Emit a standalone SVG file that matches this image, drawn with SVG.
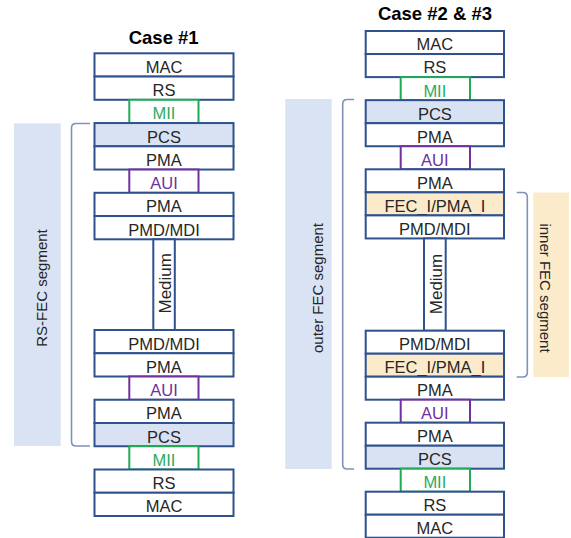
<svg xmlns="http://www.w3.org/2000/svg" width="571" height="538" viewBox="0 0 571 538">
<style>
.bx{fill:#ffffff;stroke:#2F528F;stroke-width:2}
.pcs{fill:#D9E2F3;stroke:#2F528F;stroke-width:2}
.fec{fill:#FCEBCB;stroke:#2F528F;stroke-width:2}
.mii{fill:#ffffff;stroke:#1FAA55;stroke-width:2}
.aui{fill:#ffffff;stroke:#7030A0;stroke-width:2}
.t{font-family:"Liberation Sans",Arial,sans-serif;font-size:16.5px;fill:#262626;text-anchor:middle}
.tm{fill:#2DAA5E}
.ta{fill:#7030A0}
.med{font-family:"Liberation Sans",Arial,sans-serif;font-size:17px;fill:#262626;text-anchor:middle}
.ttl{font-family:"Liberation Sans",Arial,sans-serif;font-size:18.5px;font-weight:bold;fill:#000;text-anchor:middle}
.seg{font-family:"Liberation Sans",Arial,sans-serif;font-size:15px;fill:#262626;text-anchor:middle}
.br{fill:none;stroke:#7F93B8;stroke-width:1.6}
</style>
<rect width="571" height="538" fill="#ffffff"/>
<text class="ttl" x="163.7" y="44">Case #1</text>
<text class="ttl" x="435" y="20">Case #2 &amp; #3</text>

<g id="seg-rsfec"><rect x="14" y="123.3" width="46.7" height="322.7" fill="#DAE3F3"/><text class="seg" transform="translate(47,288) rotate(-90)">RS-FEC segment</text></g>
<g id="seg-outer"><rect x="285.3" y="99" width="46.4" height="370" fill="#DAE3F3"/><text class="seg" transform="translate(322.5,288) rotate(-90)">outer FEC segment</text></g>
<g id="seg-inner"><rect x="533.3" y="192.5" width="35.7" height="184.5" fill="#FCEBCB"/><text class="seg" transform="translate(539.5,288) rotate(90)">inner FEC segment</text></g>

<g id="connectors">
<path class="br" d="M90 123.5 H76 Q71.5 123.5 71.5 128 V441.5 Q71.5 446 76 446 H90"/>
<path class="br" d="M354 99.5 H347.2 Q342.7 99.5 342.7 104 V464.5 Q342.7 469 347.2 469 H354"/>
<path class="br" d="M516.7 192.5 H522.8 Q527.3 192.5 527.3 197 V372.5 Q527.3 377 522.8 377 H516.7"/>
</g>

<!-- Case 1 top -->
<g id="c1-mac-top"><rect class="bx" x="94.5" y="53.3" width="139" height="23.25"/><text class="t" x="164" y="72.8">MAC</text></g>
<g id="c1-rs-top"><rect class="bx" x="94.5" y="76.55" width="139" height="23.25"/><text class="t" x="164" y="96">RS</text></g>
<g id="c1-mii-top"><rect class="mii" x="129.3" y="99.8" width="69.2" height="23.25"/><text class="t tm" x="164" y="119.3">MII</text></g>
<g id="c1-pcs-top"><rect class="pcs" x="94.5" y="123.05" width="139" height="23.25"/><text class="t" x="164" y="142.5">PCS</text></g>
<g id="c1-pma-top1"><rect class="bx" x="94.5" y="146.3" width="139" height="23.25"/><text class="t" x="164" y="165.8">PMA</text></g>
<g id="c1-aui-top"><rect class="aui" x="129.3" y="169.55" width="69.2" height="23.25"/><text class="t ta" x="164" y="189">AUI</text></g>
<g id="c1-pma-top2"><rect class="bx" x="94.5" y="192.8" width="139" height="23.25"/><text class="t" x="164" y="212.3">PMA</text></g>
<g id="c1-pmd-top"><rect class="bx" x="94.5" y="216.05" width="139" height="23.25"/><text class="t" x="164" y="235.5">PMD/MDI</text></g>
<g id="c1-medium"><rect class="bx" x="153.3" y="239.3" width="21.5" height="90.7"/><text class="med" transform="translate(171,283.3) rotate(-90)">Medium</text></g>
<!-- Case 1 bottom -->
<g id="c1-pmd-bot"><rect class="bx" x="94.5" y="330" width="139" height="23.25"/><text class="t" x="164" y="349.5">PMD/MDI</text></g>
<g id="c1-pma-bot1"><rect class="bx" x="94.5" y="353.25" width="139" height="23.25"/><text class="t" x="164" y="372.7">PMA</text></g>
<g id="c1-aui-bot"><rect class="aui" x="129.3" y="376.5" width="69.2" height="23.25"/><text class="t ta" x="164" y="396">AUI</text></g>
<g id="c1-pma-bot2"><rect class="bx" x="94.5" y="399.75" width="139" height="23.25"/><text class="t" x="164" y="419.2">PMA</text></g>
<g id="c1-pcs-bot"><rect class="pcs" x="94.5" y="423" width="139" height="23.25"/><text class="t" x="164" y="442.5">PCS</text></g>
<g id="c1-mii-bot"><rect class="mii" x="129.3" y="446.25" width="69.2" height="23.25"/><text class="t tm" x="164" y="465.7">MII</text></g>
<g id="c1-rs-bot"><rect class="bx" x="94.5" y="469.5" width="139" height="23.25"/><text class="t" x="164" y="489">RS</text></g>
<g id="c1-mac-bot"><rect class="bx" x="94.5" y="492.75" width="139" height="23.25"/><text class="t" x="164" y="512.2">MAC</text></g>

<!-- Case 2/3 top -->
<g id="c2-mac-top"><rect class="bx" x="365.7" y="31" width="138.3" height="23.05"/><text class="t" x="434.85" y="50.4">MAC</text></g>
<g id="c2-rs-top"><rect class="bx" x="365.7" y="54.05" width="138.3" height="23.05"/><text class="t" x="434.85" y="73.4">RS</text></g>
<g id="c2-mii-top"><rect class="mii" x="400.7" y="77.1" width="69.3" height="23.05"/><text class="t tm" x="434.85" y="96.5">MII</text></g>
<g id="c2-pcs-top"><rect class="pcs" x="365.7" y="100.15" width="138.3" height="23.05"/><text class="t" x="434.85" y="119.5">PCS</text></g>
<g id="c2-pma-top1"><rect class="bx" x="365.7" y="123.2" width="138.3" height="23.05"/><text class="t" x="434.85" y="142.6">PMA</text></g>
<g id="c2-aui-top"><rect class="aui" x="400.7" y="146.25" width="69.3" height="23.05"/><text class="t ta" x="434.85" y="165.6">AUI</text></g>
<g id="c2-pma-top2"><rect class="bx" x="365.7" y="169.3" width="138.3" height="23.05"/><text class="t" x="434.85" y="188.7">PMA</text></g>
<g id="c2-fec-top"><rect class="fec" x="365.7" y="192.35" width="138.3" height="23.05"/><text class="t" x="434.85" y="211.7">FEC_I/PMA_I</text></g>
<g id="c2-pmd-top"><rect class="bx" x="365.7" y="215.4" width="138.3" height="23.05"/><text class="t" x="434.85" y="234.8">PMD/MDI</text></g>
<g id="c2-medium"><rect class="bx" x="424" y="238.45" width="21.7" height="92.25"/><text class="med" transform="translate(442,284) rotate(-90)">Medium</text></g>
<!-- Case 2/3 bottom -->
<g id="c2-pmd-bot"><rect class="bx" x="365.7" y="330.7" width="138.3" height="23"/><text class="t" x="434.85" y="350.1">PMD/MDI</text></g>
<g id="c2-fec-bot"><rect class="fec" x="365.7" y="353.7" width="138.3" height="23"/><text class="t" x="434.85" y="373.1">FEC_I/PMA_I</text></g>
<g id="c2-pma-bot1"><rect class="bx" x="365.7" y="376.7" width="138.3" height="23"/><text class="t" x="434.85" y="396.1">PMA</text></g>
<g id="c2-aui-bot"><rect class="aui" x="400.7" y="399.7" width="69.3" height="23"/><text class="t ta" x="434.85" y="419.1">AUI</text></g>
<g id="c2-pma-bot2"><rect class="bx" x="365.7" y="422.7" width="138.3" height="23"/><text class="t" x="434.85" y="442.1">PMA</text></g>
<g id="c2-pcs-bot"><rect class="pcs" x="365.7" y="445.7" width="138.3" height="23"/><text class="t" x="434.85" y="465.1">PCS</text></g>
<g id="c2-mii-bot"><rect class="mii" x="400.7" y="468.7" width="69.3" height="23"/><text class="t tm" x="434.85" y="488.1">MII</text></g>
<g id="c2-rs-bot"><rect class="bx" x="365.7" y="491.7" width="138.3" height="23"/><text class="t" x="434.85" y="511.1">RS</text></g>
<g id="c2-mac-bot"><rect class="bx" x="365.7" y="514.7" width="138.3" height="23"/><text class="t" x="434.85" y="534.1">MAC</text></g>
</svg>
